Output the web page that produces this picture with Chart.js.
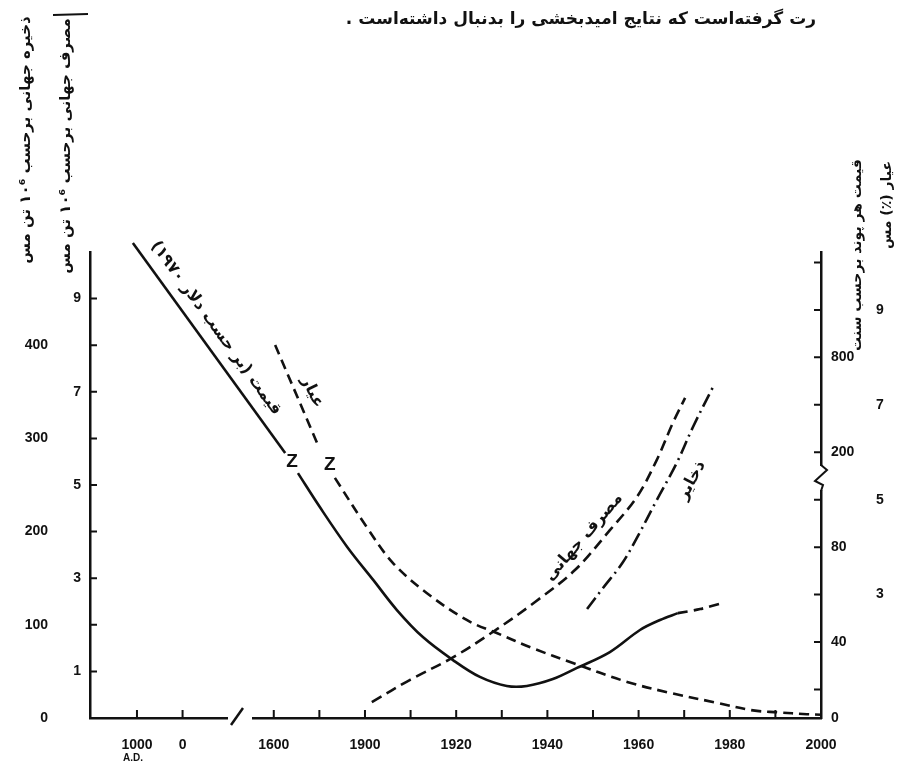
<!DOCTYPE html>
<html>
<head>
<meta charset="utf-8">
<script src="https://cdn.jsdelivr.net/npm/chart.js@4.4.1/dist/chart.umd.min.js"></script>
<style>
  html, body { margin: 0; padding: 0; background: #fff; }
</style>
</head>
<body>
<canvas id="chart" width="899" height="766"></canvas>
<script>
// x axis is broken: early centuries squeezed into slots left of 1900 (1000 A.D., 0, 1600, ...)
const xTicks      = [1850, 1860, 1880, 1890, 1900, 1910, 1920, 1930, 1940, 1950, 1960, 1970, 1980, 1990, 2000]
const xTickLabels = ['1000', '0', '1600', '', '1900', '', '1920', '', '1940', '', '1960', '', '1980', '', '2000']

// left: consumption (10^6 t) inner column, reserves (10^6 t) outer column
const consTicks = [1, 2, 3, 4, 5, 6, 7, 8, 9]
const resTicks  = [0, 100, 200, 300, 400]
// right: grade (%) outer column, price (cents/lb, broken scale) inner column
const gradeTicks = [1, 2, 3, 4, 5, 6, 7, 8, 9, 10]
const priceTicks      = [8, 40, 80, 120, 160]
const priceTickLabels = ['0', '40', '80', '200', '800']

// price, 1970 dollars (upper part is above the scale break)
const priceEarlyX = [1849.1, 1882.5]
const priceEarlyY = [208.2, 119.7]
const priceX = [1885.3, 1890.1, 1896.1, 1901.8, 1907.0, 1912.7, 1919.3, 1925.2, 1931.1, 1935.5, 1941.2, 1946.5, 1953.7, 1960.3, 1964.7, 1968.6]
const priceY = [111.2, 96.9, 80.1, 66.2, 53.5, 42.1, 32.4, 25.3, 21.5, 21.5, 24.4, 29.1, 35.8, 45.1, 49.3, 52.2]
const priceTailX = [1968.6, 1973.5, 1978.5]
const priceTailY = [52.2, 53.9, 56.5]

// ore grade %
const gradeEarlyX = [1880.3, 1889.7]
const gradeEarlyY = [8.26, 6.15]
const gradeX = [1893.4, 1900.4, 1906.1, 1913.6, 1922.4, 1928.9, 1936.8, 1945.6, 1957.5, 1966.9, 1977.2, 1985.1, 1990.4, 1996.9, 2000]
const gradeY = [5.46, 4.42, 3.67, 3.03, 2.46, 2.19, 1.87, 1.56, 1.16, 0.93, 0.72, 0.56, 0.52, 0.48, 0.47]

// world consumption
const consX = [1901.5, 1909.9, 1919.1, 1928.1, 1937.3, 1946.1, 1953.7, 1959.6, 1964.0, 1967.5, 1970.2]
const consY = [0.34, 0.82, 1.29, 1.85, 2.49, 3.18, 4.03, 4.74, 5.54, 6.33, 6.87]

// world reserves
const resX = [1948.7, 1952.2, 1956.4, 1959.6, 1964.0, 1968.4, 1971.9, 1976.3]
const resY = [117, 139.5, 166, 193, 234, 274, 312, 355]

const INK = '#111'
const FA = "'DejaVu Sans'"
const tickFont = { family: "'Liberation Sans'", size: 14, weight: 'bold' }

const pts = (xs, ys) => xs.map((x, i) => ({ x, y: ys[i] }))
const fixW = w => s => { s.width = w }
const fixH = h => s => { s.height = h }
const setTicks = vals => s => { s.ticks = vals.map(v => ({ value: v })) }

function line(data, yAxisID, dash, tension) {
  return {
    data, yAxisID, xAxisID: 'x',
    borderColor: INK, borderWidth: 2.6, borderDash: dash,
    pointRadius: 0, tension, fill: false, clip: false,
  }
}

// text on the curves, anchored in data units
const curveLabels = [
  { text: 'قیمت (بر حسب دلار ۱۹۷۰)', x: 1867.3, y: 172.3, axis: 'yPrice', angle: 54, size: 16 },
  { text: 'عیار', x: 1888.4, y: 7.27, axis: 'yGrade', angle: 64, size: 16 },
  { text: 'مصرف جهانی', x: 1948.0, y: 3.88, axis: 'yCons', angle: -49, size: 16 },
  { text: 'ذخایر', x: 1971.7, y: 255, axis: 'yRes', angle: -62, size: 16 },
  { text: 'Z', x: 1884.0, y: 115.9, axis: 'yPrice', angle: 0, size: 19 },
  { text: 'Z', x: 1892.3, y: 5.73, axis: 'yGrade', angle: 0, size: 19 },
]

function vText(ctx, text, x, y, size) {
  ctx.save()
  ctx.translate(x, y)
  ctx.rotate(-Math.PI / 2)
  ctx.font = `bold ${size}px ${FA}`
  ctx.textAlign = 'center'
  ctx.textBaseline = 'middle'
  ctx.fillText(text, 0, 0)
  ctx.restore()
}

const decor = {
  id: 'decor',
  afterDraw(chart) {
    const { ctx, chartArea: a, scales } = chart
    ctx.save()
    ctx.strokeStyle = INK
    ctx.fillStyle = INK
    ctx.lineWidth = 2

    // inward tick marks
    ctx.beginPath()
    consTicks.forEach(v => {
      const y = scales.yCons.getPixelForValue(v)
      ctx.moveTo(a.left, y); ctx.lineTo(a.left + 7, y)
    })
    gradeTicks.forEach(v => {
      const y = scales.yGrade.getPixelForValue(v)
      ctx.moveTo(a.right, y); ctx.lineTo(a.right - 7, y)
    })
    xTicks.slice(0, -1).forEach(v => {
      const x = scales.x.getPixelForValue(v)
      ctx.moveTo(x, a.bottom); ctx.lineTo(x, a.bottom - 8)
    })
    ctx.stroke()

    // x axis break
    ctx.fillStyle = '#fff'
    ctx.fillRect(228, a.bottom - 4, 24, 8)
    ctx.beginPath()
    ctx.lineWidth = 2.5
    ctx.moveTo(231, a.bottom + 7); ctx.lineTo(243, a.bottom - 10)
    ctx.stroke()

    // right axis break
    ctx.fillRect(a.right - 4, 466, 8, 24)
    ctx.beginPath()
    ctx.lineWidth = 2
    ctx.moveTo(a.right, 465); ctx.lineTo(a.right + 6, 470)
    ctx.lineTo(a.right - 6, 481); ctx.lineTo(a.right + 2, 485); ctx.lineTo(a.right, 491)
    ctx.stroke()

    // little bar above the left titles
    ctx.beginPath()
    ctx.moveTo(53, 15); ctx.lineTo(88, 14)
    ctx.stroke()

    ctx.fillStyle = INK
    // A.D. under 1000
    ctx.font = `bold 10px 'Liberation Sans'`
    ctx.textAlign = 'center'
    ctx.textBaseline = 'middle'
    ctx.fillText('A.D.', scales.x.getPixelForValue(1850) - 4, 758)

    // curve labels
    ctx.direction = 'rtl'
    curveLabels.forEach(l => {
      const x = scales.x.getPixelForValue(l.x)
      const y = scales[l.axis].getPixelForValue(l.y)
      ctx.save()
      ctx.translate(x, y)
      ctx.rotate(l.angle * Math.PI / 180)
      ctx.font = l.text === 'Z' ? `bold ${l.size}px 'Liberation Sans'` : `bold ${l.size}px ${FA}`
      ctx.textAlign = 'center'
      ctx.textBaseline = 'middle'
      ctx.fillText(l.text, 0, 0)
      ctx.restore()
    })

    // axis titles
    vText(ctx, 'ذخیره جهانی برحسب ۱۰⁶ تن مس', 26, 140, 15)
    vText(ctx, 'مصرف جهانی برحسب ۱۰⁶ تن مس', 66, 146, 15)
    vText(ctx, 'قیمت هر پوند برحسب سنت', 857, 255, 14)
    vText(ctx, 'عیار (٪) مس', 887, 205, 14)

    // cut-off line of body text above the figure
    ctx.font = `bold 17px ${FA}`
    ctx.textAlign = 'right'
    ctx.textBaseline = 'alphabetic'
    ctx.fillText('رت گرفته‌است که نتایج امیدبخشی را بدنبال داشته‌است .', 816, 24)
    ctx.restore()
  },
}

new Chart(document.getElementById('chart'), {
  type: 'line',
  data: {
    datasets: [
      line(pts(priceEarlyX, priceEarlyY), 'yPrice', [], 0),
      line(pts(priceX, priceY), 'yPrice', [], 0.35),
      line(pts(priceTailX, priceTailY), 'yPrice', [10, 6], 0.3),
      line(pts(gradeEarlyX, gradeEarlyY), 'yGrade', [10, 6], 0),
      line(pts(gradeX, gradeY), 'yGrade', [10, 6], 0.35),
      line(pts(consX, consY), 'yCons', [11, 6], 0.35),
      line(pts(resX, resY), 'yRes', [14, 5, 2, 5], 0.35),
    ],
  },
  options: {
    responsive: false,
    animation: false,
    events: [],
    layout: { padding: { top: 252, left: 0, right: 0, bottom: 0 } },
    plugins: { legend: { display: false }, tooltip: { enabled: false } },
    scales: {
      x: {
        type: 'linear', position: 'bottom', min: 1839.7, max: 2000,
        afterBuildTicks: setTicks(xTicks),
        afterFit: fixH(48),
        grid: { drawOnChartArea: false, drawTicks: false },
        border: { color: INK, width: 2.5 },
        ticks: {
          autoSkip: false, maxRotation: 0, padding: 19, color: INK, font: tickFont,
          callback: (v, i) => xTickLabels[i],
        },
      },
      yCons: {
        type: 'linear', position: 'left', weight: 0, min: 0, max: 10,
        afterBuildTicks: setTicks(consTicks),
        afterFit: fixW(35),
        grid: { drawOnChartArea: false, drawTicks: false },
        border: { color: INK, width: 2.5 },
        ticks: { padding: 9, color: INK, font: tickFont, callback: v => (v % 2 ? String(v) : '') },
      },
      yRes: {
        type: 'linear', position: 'left', weight: 1, min: 0, max: 500,
        afterBuildTicks: setTicks(resTicks),
        afterFit: fixW(55),
        grid: { display: false, drawTicks: false },
        border: { display: false },
        ticks: { padding: 7, color: INK, font: tickFont },
      },
      yPrice: {
        type: 'linear', position: 'right', weight: 0, min: 8, max: 204.4,
        afterBuildTicks: setTicks(priceTicks),
        afterFit: fixW(45),
        grid: { drawOnChartArea: false, drawTicks: false },
        border: { color: INK, width: 2.5 },
        ticks: { padding: 10, color: INK, font: tickFont, callback: (v, i) => priceTickLabels[i] },
      },
      yGrade: {
        type: 'linear', position: 'right', weight: 1, min: 0.4, max: 10.22,
        afterBuildTicks: setTicks(gradeTicks),
        afterFit: fixW(33),
        grid: { display: false, drawTicks: false },
        border: { display: false },
        ticks: { padding: 10, color: INK, font: tickFont, callback: v => (v % 2 && v > 1 ? String(v) : '') },
      },
    },
  },
  plugins: [decor],
})
</script>
</body>
</html>
